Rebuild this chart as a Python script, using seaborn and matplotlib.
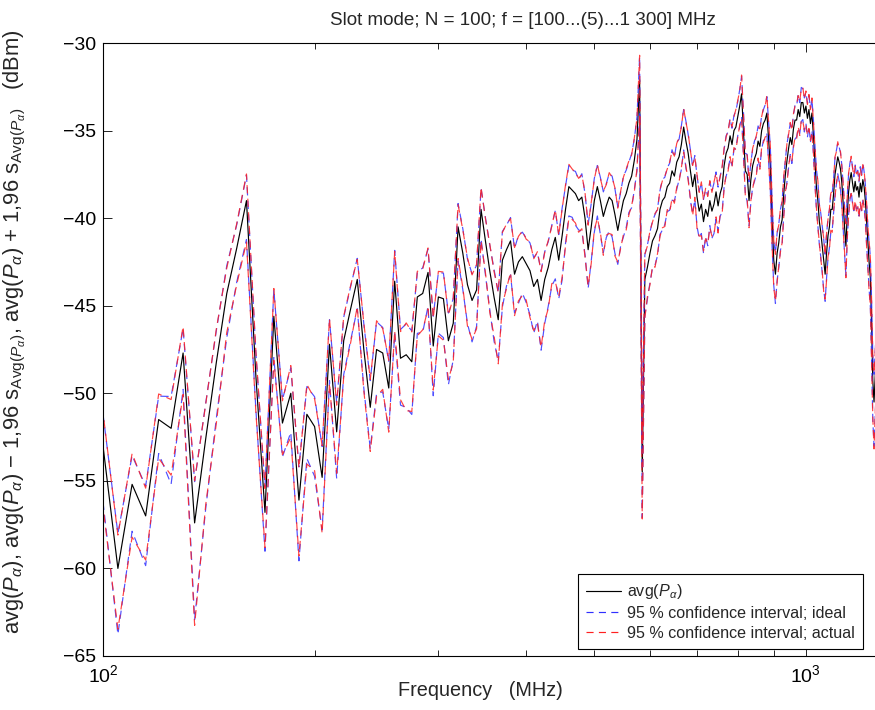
import numpy as np
import pandas as pd
import seaborn as sns
import matplotlib
matplotlib.use("Agg")
import matplotlib.pyplot as plt
from matplotlib.lines import Line2D
from matplotlib.ticker import FixedLocator, NullFormatter

# ---------------- data ----------------
freq_mhz = np.arange(100, 1301, 5)

avg_dbm = [
    -53.0, -60.0, -55.2, -57.0, -51.5, -52.0, -47.7, -57.4, -52.6, -48.2, -44.3, -41.7, -39.0,
    -49.0, -56.8, -45.6, -51.7, -50.0, -56.1, -51.2, -51.9, -54.8, -47.2, -52.2, -47.0,
    -45.2, -43.5, -47.5, -50.8, -47.5, -47.7, -49.7, -43.6, -48.0, -47.8, -48.2, -44.5,
    -44.3, -43.1, -47.3, -44.5, -44.6, -47.0, -46.0, -40.5, -42.0, -43.8,
    -44.7, -44.1, -39.5, -41.3, -43.0, -44.5, -45.8, -42.4, -41.8, -41.3, -43.2, -42.5,
    -42.2, -42.6, -43.0, -43.9, -43.5, -44.7, -43.5, -42.8, -41.8, -41.1, -42.4, -41.0,
    -39.5, -38.2, -38.4, -38.6, -39.0, -38.8,
    -40.0, -41.8, -40.5, -39.0, -38.2, -39.0, -39.9, -39.3, -38.8, -39.0, -39.8, -40.7,
    -39.8, -39.0, -38.6, -38.0, -37.6, -36.7, -35.5, -32.1,
    -54.5, -43.5, -42.8, -42.0, -41.3, -41.0, -40.6, -39.5, -39.0, -38.8, -38.2, -38.0,
    -37.3, -37.6, -36.8, -36.5, -35.8, -34.8, -35.6, -36.3, -37.3, -38.2, -37.5, -38.8,
    -39.6, -39.2, -40.2, -39.5, -39.9, -39.0, -39.6, -39.2, -38.5, -39.3, -38.6, -38.2,
    -37.0, -36.3, -36.0, -35.3, -35.8, -35.0, -34.8, -34.2,
    -33.6, -32.9, -35.0, -37.3, -37.5, -39.0, -37.8, -37.0, -36.6, -36.3, -35.6, -35.9,
    -35.0, -34.6, -34.4, -34.0, -35.5, -37.0, -40.0, -42.4,
    -43.2, -42.0, -41.4, -40.5, -40.1, -38.6, -37.5, -36.7, -36.0, -35.4, -35.8, -34.9,
    -34.4, -34.4, -33.8, -34.2, -33.4, -33.4, -34.0, -33.6,
    -34.3, -33.8, -34.6, -34.0, -35.3, -36.8, -38.2, -39.0, -40.2, -40.8, -41.6, -42.4,
    -43.2, -42.0, -41.0, -40.5, -39.5, -39.5, -38.6, -37.5,
    -37.0, -36.5, -36.8, -37.2, -38.0, -39.2, -40.5, -41.6, -39.8, -38.5, -37.8, -37.4,
    -38.0, -38.5, -37.9, -38.4, -38.2, -38.8, -38.0, -38.5,
    -37.8, -38.2, -39.0, -40.2, -41.5, -42.5, -43.4, -46.0, -49.3, -50.5, -49.0, -47.5,
    -46.5, -45.5, -45.0, -44.5, -44.0, -43.5, -43.0, -42.5,
]

# relative half-width 1,96*s / avg (linear power) of the 95 % confidence interval
rel_ideal = [
    0.52, 0.58, 0.46, 0.48, 0.36, 0.52, 0.38, 0.72, 0.60, 0.52, 0.44, 0.36, 0.40,
    0.36, 0.40, 0.42, 0.36, 0.40, 0.55, 0.44, 0.48, 0.50, 0.38, 0.46, 0.36,
    0.34, 0.32, 0.40, 0.42, 0.44, 0.40, 0.42, 0.50, 0.46, 0.50, 0.50, 0.38,
    0.40, 0.36, 0.48, 0.38, 0.40, 0.44, 0.38, 0.36, 0.38, 0.40,
    0.42, 0.38, 0.32, 0.36, 0.40, 0.44, 0.42, 0.46, 0.38, 0.36, 0.40, 0.42,
    0.38, 0.40, 0.44, 0.46, 0.42, 0.48, 0.44, 0.40, 0.38, 0.42, 0.40, 0.44,
    0.36, 0.32, 0.30, 0.34, 0.32, 0.36,
    0.38, 0.40, 0.36, 0.34, 0.32, 0.36, 0.38, 0.34, 0.36, 0.38, 0.40, 0.36,
    0.34, 0.38, 0.36, 0.32, 0.34, 0.32, 0.34, 0.36,
    0.45, 0.38, 0.34, 0.32, 0.30, 0.32, 0.30, 0.28, 0.32, 0.30, 0.28, 0.30,
    0.32, 0.28, 0.30, 0.26, 0.28, 0.26, 0.30, 0.28, 0.32, 0.30, 0.28, 0.32,
    0.30, 0.32, 0.34, 0.30, 0.32, 0.28, 0.30, 0.32, 0.30, 0.28, 0.26, 0.28,
    0.24, 0.26, 0.24, 0.26, 0.24, 0.22, 0.24, 0.22,
    0.24, 0.26, 0.28, 0.26, 0.30, 0.28, 0.26, 0.24, 0.26, 0.24, 0.22, 0.24,
    0.22, 0.20, 0.22, 0.24, 0.26, 0.28, 0.30, 0.28,
    0.32, 0.30, 0.28, 0.26, 0.28, 0.24, 0.22, 0.24, 0.22, 0.20, 0.22, 0.20,
    0.22, 0.20, 0.22, 0.20, 0.22, 0.20, 0.22, 0.20,
    0.22, 0.20, 0.22, 0.20, 0.22, 0.24, 0.26, 0.28, 0.26, 0.28, 0.30, 0.32,
    0.30, 0.28, 0.26, 0.24, 0.26, 0.24, 0.22, 0.24,
    0.22, 0.20, 0.22, 0.24, 0.26, 0.28, 0.30, 0.32, 0.28, 0.26, 0.24, 0.22,
    0.24, 0.22, 0.24, 0.22, 0.24, 0.22, 0.24, 0.22,
    0.24, 0.22, 0.24, 0.26, 0.28, 0.30, 0.32, 0.36, 0.40, 0.44, 0.40, 0.36,
    0.34, 0.32, 0.30, 0.28, 0.28, 0.26, 0.26, 0.24,
]

rel_actual = [
    0.55, 0.55, 0.50, 0.44, 0.40, 0.46, 0.42, 0.74, 0.58, 0.55, 0.40, 0.38, 0.42,
    0.38, 0.37, 0.44, 0.34, 0.44, 0.52, 0.48, 0.44, 0.52, 0.40, 0.42, 0.38,
    0.36, 0.30, 0.42, 0.44, 0.46, 0.38, 0.44, 0.48, 0.42, 0.52, 0.48, 0.40,
    0.38, 0.38, 0.44, 0.40, 0.42, 0.40, 0.40, 0.34, 0.36, 0.42,
    0.40, 0.40, 0.34, 0.34, 0.42, 0.40, 0.44, 0.44, 0.40, 0.34, 0.42, 0.40,
    0.40, 0.38, 0.46, 0.44, 0.44, 0.46, 0.42, 0.42, 0.36, 0.44, 0.38, 0.42,
    0.38, 0.34, 0.32, 0.32, 0.34, 0.34,
    0.40, 0.38, 0.38, 0.32, 0.34, 0.34, 0.40, 0.32, 0.38, 0.36, 0.42, 0.34,
    0.36, 0.36, 0.38, 0.34, 0.32, 0.34, 0.32, 0.38,
    0.46, 0.40, 0.32, 0.34, 0.28, 0.34, 0.28, 0.30, 0.30, 0.32, 0.26, 0.32,
    0.30, 0.30, 0.28, 0.28, 0.26, 0.28, 0.28, 0.30, 0.30, 0.32, 0.26, 0.34,
    0.28, 0.34, 0.32, 0.32, 0.30, 0.30, 0.28, 0.34, 0.28, 0.30, 0.24, 0.30,
    0.26, 0.24, 0.26, 0.24, 0.26, 0.20, 0.26, 0.24,
    0.22, 0.28, 0.26, 0.28, 0.28, 0.30, 0.24, 0.26, 0.24, 0.26, 0.20, 0.26,
    0.20, 0.22, 0.20, 0.26, 0.24, 0.30, 0.28, 0.30,
    0.30, 0.32, 0.26, 0.28, 0.26, 0.26, 0.20, 0.26, 0.20, 0.22, 0.20, 0.22,
    0.20, 0.22, 0.20, 0.22, 0.20, 0.22, 0.20, 0.22,
    0.20, 0.22, 0.20, 0.22, 0.20, 0.26, 0.24, 0.30, 0.24, 0.30, 0.28, 0.34,
    0.28, 0.30, 0.24, 0.26, 0.24, 0.26, 0.20, 0.26,
    0.20, 0.22, 0.20, 0.26, 0.24, 0.30, 0.28, 0.34, 0.26, 0.28, 0.22, 0.24,
    0.22, 0.24, 0.22, 0.24, 0.22, 0.24, 0.22, 0.24,
    0.22, 0.24, 0.22, 0.28, 0.26, 0.32, 0.30, 0.38, 0.38, 0.46, 0.38, 0.38,
    0.32, 0.34, 0.28, 0.30, 0.26, 0.28, 0.24, 0.26,
]

assert len(avg_dbm) == len(freq_mhz) == len(rel_ideal) == len(rel_actual)

title_text = "Slot mode; N = 100; f = [100...(5)...1 300] MHz"
xlabel_text = "Frequency   (MHz)"
ylabel_text = (r"avg($P_\alpha$), avg($P_\alpha$) $-$ 1,96 s$_{\mathrm{Avg}(P_\alpha)}$, "
               r"avg($P_\alpha$) + 1,96 s$_{\mathrm{Avg}(P_\alpha)}$   (dBm)")
legend_labels = [r"avg($P_\alpha$)", "95 % confidence interval; ideal",
                 "95 % confidence interval; actual"]

# ---------------- plotting ----------------
sns.set_theme(style="ticks")
plt.rcParams["font.family"] = ["Liberation Sans", "DejaVu Sans"]
plt.rcParams["mathtext.fontset"] = "custom"
plt.rcParams["mathtext.rm"] = "Liberation Sans"
plt.rcParams["mathtext.it"] = "Liberation Sans:italic"
plt.rcParams["mathtext.bf"] = "Liberation Sans:bold"

avg = np.array(avg_dbm)
df = pd.DataFrame({"freq": freq_mhz, "avg": avg})
df["ideal_up"] = avg + 10 * np.log10(1 + np.array(rel_ideal))
df["ideal_lo"] = avg + 10 * np.log10(1 - np.array(rel_ideal))
df["actual_up"] = avg + 10 * np.log10(1 + np.array(rel_actual))
df["actual_lo"] = avg + 10 * np.log10(1 - np.array(rel_actual))

fig = plt.figure(figsize=(8.75, 7.10), dpi=100)
ax = fig.add_axes([103 / 875, 54 / 710, (886 - 103) / 875, (656 - 43) / 710])

lw = 0.85
blue = "#3030ff"
red = "#ff2020"
sns.lineplot(data=df, x="freq", y="avg", ax=ax, color="black", lw=lw,
             estimator=None, sort=False)
for col in ["ideal_up", "ideal_lo"]:
    sns.lineplot(data=df, x="freq", y=col, ax=ax, color=blue, lw=lw,
                 linestyle=(0, (7, 4.5)), estimator=None, sort=False, alpha=0.85)
for col in ["actual_up", "actual_lo"]:
    sns.lineplot(data=df, x="freq", y=col, ax=ax, color=red, lw=lw,
                 linestyle=(5, (7, 4.5)), estimator=None, sort=False, alpha=0.85)

ax.set_xscale("log")
ax.set_xlim(100, 1300)
ax.set_ylim(-65, -30)
ax.set_yticks(np.arange(-65, -29, 5))
ax.xaxis.set_major_locator(FixedLocator([100, 1000]))
ax.set_xticklabels([r"$10^2$", r"$10^3$"])
ax.xaxis.set_minor_locator(FixedLocator([200, 300, 400, 500, 600, 700, 800, 900]))
ax.xaxis.set_minor_formatter(NullFormatter())

ax.tick_params(which="both", direction="in", top=True, right=True,
               labelsize=14, colors="black", width=0.6)
ax.tick_params(which="major", length=6.5, pad=5)
ax.tick_params(axis="x", which="major", pad=6)
ax.tick_params(which="minor", length=4)
for s in ax.spines.values():
    s.set_linewidth(0.8)
    s.set_color("black")

ax.set_title(title_text, fontsize=13.6, pad=13, x=(523 - 103) / 783)
ax.set_xlabel(xlabel_text, fontsize=14.3)
ax.xaxis.set_label_coords((480 - 103) / 783, -(691 - 656) / 613)
ax.xaxis.label.set_va("center")
ax.set_ylabel(ylabel_text, fontsize=15.8)
ax.yaxis.set_label_coords((28 - 103) / 783, (656 - 332) / 613)

handles = [
    Line2D([], [], color="black", lw=lw),
    Line2D([], [], color=blue, lw=lw, linestyle=(0, (6, 4.5))),
    Line2D([], [], color=red, lw=lw, linestyle=(0, (6, 4.5))),
]
leg = ax.legend(handles, legend_labels, loc="lower right",
                bbox_to_anchor=(863 / 875, 61 / 710), bbox_transform=fig.transFigure,
                fontsize=11.6, frameon=True, fancybox=False, framealpha=1,
                edgecolor="black", borderpad=0.5, handlelength=2.2,
                handletextpad=0.35, labelspacing=0.3, borderaxespad=0)
leg.get_frame().set_linewidth(0.8)

fig.savefig("out.png", dpi=100)
